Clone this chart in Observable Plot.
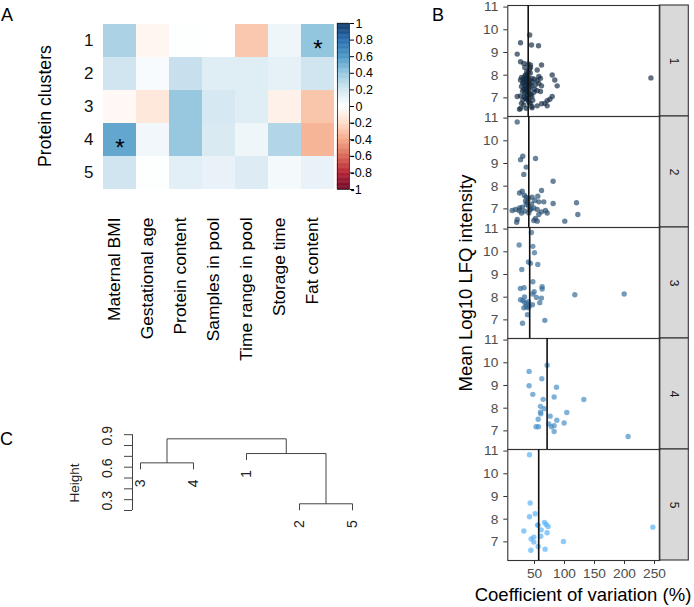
<!DOCTYPE html>
<html><head><meta charset="utf-8">
<script src="https://cdn.jsdelivr.net/npm/d3@7"></script>
<script src="https://cdn.jsdelivr.net/npm/@observablehq/plot@0.6"></script>
<style>
body{margin:0;background:#fff;}
#wrap{position:relative;width:694px;height:607px;overflow:hidden;font-family:"Liberation Sans",Arial,sans-serif;color:#000;background:#fff;}
.lbl{position:absolute;white-space:nowrap;line-height:1;}
.rot{transform:translate(-50%,-50%) rotate(-90deg);}
.ctr{transform:translate(-50%,-50%);}
</style></head><body><div id="wrap"></div>
<script>
// ---------- Panel A data ----------
const variables = ["Maternal BMI","Gestational age","Protein content","Samples in pool","Time range in pool","Storage time","Fat content"];
const clusterIds = ["1","2","3","4","5"];
const corrC1 = [0.32,-0.05,0.01,0.0,-0.27,0.07,0.40];
const corrC2 = [0.20,0.03,0.23,0.14,0.14,0.11,0.20];
const corrC3 = [-0.04,-0.13,0.38,0.18,0.14,-0.08,-0.28];
const corrC4 = [0.52,0.06,0.38,0.16,0.07,0.30,-0.34];
const corrC5 = [0.20,0.01,0.12,0.10,0.15,0.05,0.10];
const sigCluster = ["1","4"];
const sigVariable = ["Fat content","Maternal BMI"];
const corrStops = [-1,-0.8,-0.6,-0.4,-0.2,0,0.2,0.4,0.6,0.8,1];
const corrColors = ["#67001F","#B2182B","#D6604D","#F4A582","#FDDBC7","#FFFFFF","#D1E5F0","#92C5DE","#4393C3","#2166AC","#053061"];
const colorbarTicks = [1,0.8,0.6,0.4,0.2,0,-0.2,-0.4,-0.6,-0.8,-1];

// ---------- Panel B data (coefficient of variation %, mean log10 LFQ) ----------
const cvLfqCluster1 = [[42,9.77],[26.7,9.43],[45,9.33],[56.7,9.3],[21.2,8.93],[26.7,8.59],[32.2,8.52],[39.5,8.49],[43.3,8.45],[61.7,8.45],[54.5,8.23],[41.7,8.26],[39.5,8.11],[79.5,8.01],[83.8,7.79],[87.8,7.53],[57.2,7.94],[60,7.86],[28.3,7.9],[32.2,7.86],[26.7,7.79],[35,7.72],[30.5,7.64],[41.7,7.79],[45.5,7.86],[50,7.82],[54.5,7.76],[57.2,7.64],[51.1,7.57],[61.7,7.53],[44.4,7.53],[37.2,7.5],[32.2,7.38],[40.5,7.35],[50,7.38],[54.5,7.32],[60,7.28],[33.9,7.2],[41.7,7.18],[26.7,7.09],[21.2,7.06],[35,6.98],[45.5,7.06],[30.5,6.91],[39.5,6.88],[79.5,7.06],[75.6,6.94],[71.1,6.88],[67.2,6.76],[71.1,6.65],[61.7,6.74],[54.5,6.65],[45.5,6.62],[32.2,6.69],[26.7,6.54],[36.1,6.54],[28.3,6.76],[43.3,6.76],[36.1,7.42],[28.3,7.5],[35,8.01],[37.8,7.9],[33.9,8.34],[43.3,8.34],[38,7.6],[42,7.45],[36,7.3],[44,7.15],[40,7.0],[34,7.55],[46,7.7],[39,7.95],[43,8.1],[37,8.15],[31,7.7],[41,6.8],[47,6.9],[33,7.05],[49,7.25],[36,7.82],[40,7.65],[38,7.12],[30,7.3],[25,6.5],[46,6.56],[34,7.95],[38,7.75],[42,7.62],[35,7.4],[39,7.25],[37,6.95],[244,7.88]];
const cvLfqCluster2 = [[21.2,10.83],[26.7,9.17],[30.5,9.32],[51.7,9.22],[36.2,8.84],[32.2,8.52],[81,8.22],[29.5,7.78],[25,7.7],[61.7,7.81],[46,7.52],[55.5,7.56],[36.2,7.52],[40.5,7.46],[50.5,7.37],[57.2,7.31],[65.5,7.31],[81,7.24],[120,7.27],[122.2,6.75],[100.5,6.46],[18.3,6.97],[25,7.04],[29.5,7.07],[36.2,7.19],[40.5,7.12],[45,7.22],[48.9,7.04],[54.5,6.97],[61.7,6.87],[68.3,6.93],[71.1,6.82],[57.2,6.75],[51.7,6.58],[48.9,6.49],[54.5,6.46],[21.2,6.53],[20.3,6.41],[28.3,6.82],[33.9,6.9],[40.5,6.82],[12.8,6.93],[24.4,6.93],[38,7.3],[44,7.0],[35,7.35],[42,6.95],[33,7.6]];
const cvLfqCluster3 = [[44.9,10.85],[24.4,10.3],[47.2,10.24],[49.9,9.96],[39.9,9.55],[43.3,9.49],[55.5,9.44],[28.8,9.22],[47.2,8.68],[26.6,8.38],[32.7,8.42],[62.7,8.46],[62.7,8.36],[49.4,8.24],[47.2,8.14],[33.3,8.01],[26.6,7.89],[30.5,7.85],[53.3,7.99],[61.6,7.96],[33.8,7.77],[37.2,7.7],[46.6,7.67],[58.8,7.76],[35.5,7.58],[32.2,7.53],[39.4,7.53],[38.3,7.23],[30,6.85],[67.2,6.98],[117.2,8.11],[199.4,8.14],[41,7.6],[40,7.8]];
const cvLfqCluster4 = [[71,9.89],[41,9.62],[62.2,9.3],[41,8.99],[86.6,8.92],[47.2,8.61],[64.4,8.39],[82.7,8.49],[132.2,8.38],[59.9,8.08],[66,7.98],[59.9,7.82],[60.5,7.75],[103.8,7.81],[76.1,7.65],[56.1,7.51],[87.2,7.47],[99.4,7.35],[73.8,7.31],[82.7,7.23],[52.7,7.18],[56.6,7.18],[78.3,7.18],[82.7,6.97],[206,6.75]];
const cvLfqCluster5 = [[41.6,10.84],[42.7,8.71],[51.1,8.24],[41.6,8.11],[66.6,7.86],[69.4,7.77],[56.1,7.74],[55,7.74],[72.7,7.68],[61.1,7.53],[32.2,7.48],[71,7.4],[247.2,7.65],[60.5,7.25],[48.9,7.21],[44.4,7.13],[48.9,6.99],[98.3,7.02],[56.1,6.8],[67.7,6.68],[43.9,6.63]];
const cvMedian = [39.5,40.5,42,71,57];
const cvTicks = [50,100,150,200,250];
const lfqTicks = [7,8,9,10,11];

// ---------- Panel C data (hclust of clusters) ----------
const dendroOrder = ["3","4","1","2","5"];
const mergeLeft  = ["2","3","1","#2"];
const mergeRight = ["5","4","#1","#3"];
const mergeHeight = [0.362,0.74,0.826,0.962];
const heightTicks = [0.3,0.4,0.5,0.6,0.7,0.8,0.9,1.0];
const heightLabels = [0.3,0.6,0.9];

// ---------- helpers ----------
const wrap = document.getElementById("wrap");
const FONT = '"Liberation Sans", Arial, sans-serif';
function place(svg, left, top){
  svg.style.position = "absolute";
  svg.style.left = left + "px";
  svg.style.top = top + "px";
  svg.style.overflow = "visible";
  svg.style.background = "transparent";
  svg.style.maxWidth = "none";
  wrap.appendChild(svg);
}
function label(text, x, y, size, cls, color){
  const d = document.createElement("div");
  d.className = "lbl " + cls;
  d.textContent = text;
  d.style.left = x + "px"; d.style.top = y + "px";
  d.style.fontSize = size + "px";
  if (color) d.style.color = color;
  wrap.appendChild(d);
}
const baseStyle = {fontFamily: FONT, background: "transparent", overflow: "visible"};
const corrColor = {type: "linear", domain: corrStops, range: corrColors};

// ---------- Panel A: heatmap ----------
const corrRows = [corrC1, corrC2, corrC3, corrC4, corrC5];
const cells = corrRows.flatMap((row, i) => row.map((v, j) => ({cluster: clusterIds[i], variable: variables[j], value: v})));
const sigCells = sigCluster.map((c, i) => ({cluster: c, variable: sigVariable[i]}));

const heat = Plot.plot({
  width: 400, height: 380,
  marginLeft: 102, marginRight: 66, marginTop: 23, marginBottom: 191,
  x: {domain: variables, padding: 0, axis: null},
  y: {domain: clusterIds, padding: 0, axis: null},
  color: corrColor,
  style: baseStyle,
  marks: [
    Plot.cell(cells, {x: "variable", y: "cluster", fill: "value"}),
    Plot.text(sigCells, {x: "variable", y: "cluster", text: () => "*", fontSize: 24, dy: 8, fill: "#000"}),
    Plot.text(clusterIds, {y: d => d, text: d => d, frameAnchor: "left", textAnchor: "end", dx: -9, fontSize: 17, fill: "#111"}),
    Plot.text(variables, {x: d => d, frameAnchor: "bottom", dy: 28, rotate: -90, textAnchor: "end", fontSize: 17.4, fill: "#000"})
  ]
});
place(heat, 0, 0);

// colorbar
const cbSteps = d3.range(-1, 1, 0.01);
const cbar = Plot.plot({
  width: 70, height: 210,
  marginLeft: 7, marginRight: 51, marginTop: 23, marginBottom: 21,
  x: {domain: [0, 1], axis: null},
  y: {domain: [-1, 1], axis: null},
  color: corrColor,
  style: baseStyle,
  marks: [
    Plot.rect(cbSteps, {x1: () => 0, x2: () => 1, y1: d => d, y2: d => d + 0.0101, fill: d => d + 0.005, stroke: d => d + 0.005, strokeWidth: 0.3}),
    Plot.frame({stroke: "#222", strokeWidth: 0.8}),
    Plot.axisY({anchor: "right", ticks: colorbarTicks, tickSize: 4, tickFormat: () => "", label: null}),
    Plot.text(colorbarTicks.filter(d => d >= 0), {y: d => d, text: d => String(d), frameAnchor: "right", textAnchor: "start", dx: 6, fontSize: 12.5, fill: "#000"}),
    Plot.text(colorbarTicks.filter(d => d < 0), {y: d => d, text: d => String(d), frameAnchor: "right", textAnchor: "start", dx: 1, fontSize: 12.5, fill: "#000"})
  ]
});
place(cbar, 330, 0);

// ---------- Panel B: faceted scatter ----------
const clusterPairs = [cvLfqCluster1, cvLfqCluster2, cvLfqCluster3, cvLfqCluster4, cvLfqCluster5];
const points = clusterPairs.flatMap((arr, i) => arr.map(([cv, lfq]) => ({cluster: clusterIds[i], k: i + 1, cv, lfq})));
const medians = cvMedian.map((m, i) => ({cluster: clusterIds[i], cv: m}));
const xDom = [5.5, 258.8], yDom = [6.18, 11.07];
const lastCluster = clusterIds[clusterIds.length - 1];

const scatter = Plot.plot({
  width: 294, height: 607,
  marginLeft: 107.3, marginRight: 34.7, marginTop: 4.7, marginBottom: 46.3,
  x: {domain: xDom},
  y: {domain: yDom},
  fy: {domain: clusterIds, padding: 0, axis: null},
  color: {type: "linear", domain: [1, 5], range: ["#132B43", "#56B1F7"], interpolate: "lab"},
  style: baseStyle,
  marks: [
    Plot.rect(clusterIds, {fy: d => d, x1: () => xDom[1], x2: () => xDom[1], y1: () => yDom[0], y2: () => yDom[1], insetRight: -29, fill: "#d9d9d9", stroke: "#333", strokeWidth: 1.1}),
    Plot.frame({stroke: "#333", strokeWidth: 1.1}),
    Plot.dot(points, {x: "cv", y: "lfq", fy: "cluster", fill: "k", r: 2.7, fillOpacity: 0.68, stroke: "none"}),
    Plot.ruleX(medians, {x: "cv", fy: "cluster", stroke: "#111", strokeWidth: 1.6}),
    Plot.text(clusterIds, {fy: d => d, x: () => xDom[1], text: d => d, dx: 14.5, rotate: 90, fontSize: 12, fill: "#1a1a1a"}),
    Plot.axisX({ticks: cvTicks, tickSize: 4, tickFormat: () => "", label: null, color: "#333"}),
    Plot.axisY({ticks: lfqTicks, tickSize: 4, tickFormat: () => "", label: null, color: "#333"}),
    Plot.text(lfqTicks, {y: d => d, text: d => String(d), frameAnchor: "left", textAnchor: "end", dx: -9.5, fontSize: 13.7, fill: "#4d4d4d"}),
    Plot.text(cvTicks, {x: d => d, fy: () => lastCluster, text: d => String(d), frameAnchor: "bottom", lineAnchor: "top", dy: 8, fontSize: 13.7, fill: "#4d4d4d"})
  ]
});
place(scatter, 400, 0);

// ---------- Panel C: dendrogram ----------
const hang = 0.1 * (d3.max(mergeHeight) - d3.min(mergeHeight));
const nodes = {};
dendroOrder.forEach((l, i) => nodes[l] = {x: i + 1, leaf: true});
const segs = [], leafEnds = [];
mergeHeight.forEach((h, k) => {
  const names = [mergeLeft[k], mergeRight[k]];
  const kids = names.map(n => nodes[n]);
  kids.forEach((c, j) => {
    const y0 = c.leaf ? h - hang : c.h;
    if (c.leaf) leafEnds.push({label: names[j], x: c.x, y: y0});
    segs.push({x1: c.x, y1: y0, x2: c.x, y2: h});
  });
  segs.push({x1: kids[0].x, y1: h, x2: kids[1].x, y2: h});
  nodes["#" + (k + 1)] = {x: (kids[0].x + kids[1].x) / 2, h, leaf: false};
});

const dendro = Plot.plot({
  width: 400, height: 180,
  marginLeft: 132, marginRight: 10, marginTop: 14.2, marginBottom: 90,
  x: {domain: [1, 5], range: [140, 352], axis: null},
  y: {domain: [0.3, 1.0], axis: null},
  style: baseStyle,
  marks: [
    Plot.link(segs, {x1: "x1", y1: "y1", x2: "x2", y2: "y2", stroke: "#444", strokeWidth: 1}),
    Plot.text(leafEnds, {x: "x", y: "y", text: "label", rotate: -90, textAnchor: "end", dy: 10, fontSize: 14, fill: "#222"}),
    Plot.axisY({ticks: heightTicks, tickSize: 8, tickFormat: () => "", label: null, color: "#444"}),
    Plot.ruleX([1], {x: d => d, y1: () => heightTicks[0], y2: () => heightTicks[heightTicks.length - 1], dx: -8, stroke: "#444"}),
    Plot.text(heightLabels, {y: d => d, text: d => d.toFixed(1), frameAnchor: "left", dx: -25, rotate: -90, fontSize: 14, fill: "#222"})
  ]
});
place(dendro, 0, 420);

// ---------- titles / panel letters ----------
label("A", 1, 6, 18, "");
label("B", 432, 6, 18, "");
label("C", 0, 430, 18, "");
label("Protein clusters", 46, 106, 17.7, "rot");
label("Mean Log10 LFQ intensity", 466, 283, 18.5, "rot");
label("Coefficient of variation (%)", 583, 595, 18.5, "ctr");
label("Height", 75, 483, 13.5, "rot", "#222");
</script></body></html>
